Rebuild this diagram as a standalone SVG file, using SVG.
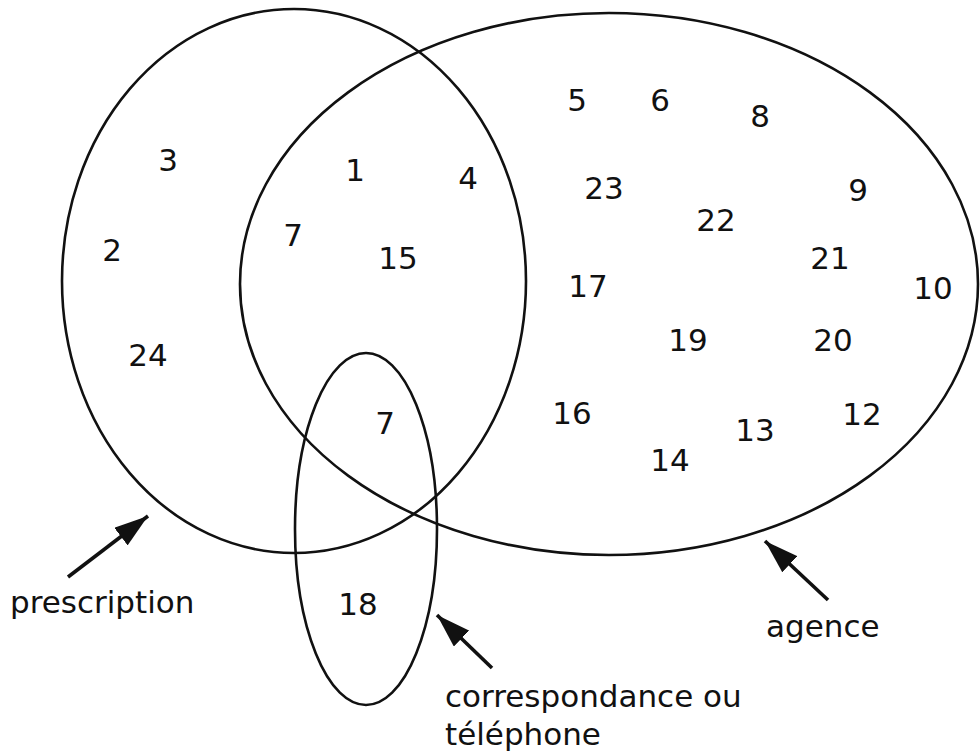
<svg xmlns="http://www.w3.org/2000/svg" width="980" height="754" viewBox="0 0 980 754">
<defs>
<style>
.set{fill:none;stroke:#111;stroke-width:2.6}
.arrow{stroke:#111;stroke-width:3.6;fill:none}
text{font-family:"DejaVu Sans","Liberation Sans",sans-serif;font-size:30px;fill:#111}
.lbl{font-size:31px}
.n{text-anchor:middle;font-size:31px}
</style>
<marker id="ah" markerUnits="userSpaceOnUse" markerWidth="36" markerHeight="22" refX="34" refY="11" orient="auto">
<path d="M0,0 L34,11 L0,22 Z" fill="#111"/>
</marker>
</defs>
<rect width="980" height="754" fill="#fff"/>
<g id="prescription">
<ellipse class="set" cx="294" cy="281" rx="232" ry="272"/>
<text class="lbl" x="10" y="613">prescription</text>
</g>
<g id="agence">
<ellipse class="set" cx="609" cy="284" rx="369" ry="271"/>
<text class="lbl" x="766" y="637">agence</text>
</g>
<g id="correspondance">
<ellipse class="set" cx="366" cy="529" rx="71" ry="176"/>
<text class="lbl" x="445" y="707">correspondance ou</text>
<text class="lbl" x="445" y="745">téléphone</text>
</g>
<g id="numbers">
<text class="n" x="168" y="171">3</text>
<text class="n" x="112" y="261">2</text>
<text class="n" x="148" y="366">24</text>
<text class="n" x="355" y="181">1</text>
<text class="n" x="468" y="189">4</text>
<text class="n" x="293" y="246">7</text>
<text class="n" x="398" y="269">15</text>
<text class="n" x="385" y="434">7</text>
<text class="n" x="358" y="615">18</text>
<text class="n" x="577" y="111">5</text>
<text class="n" x="660" y="111">6</text>
<text class="n" x="760" y="127">8</text>
<text class="n" x="604" y="199">23</text>
<text class="n" x="716" y="231">22</text>
<text class="n" x="858" y="201">9</text>
<text class="n" x="830" y="269">21</text>
<text class="n" x="933" y="299">10</text>
<text class="n" x="588" y="297">17</text>
<text class="n" x="688" y="351">19</text>
<text class="n" x="833" y="351">20</text>
<text class="n" x="572" y="424">16</text>
<text class="n" x="755" y="441">13</text>
<text class="n" x="862" y="425">12</text>
<text class="n" x="670" y="471">14</text>
</g>
<g id="connectors">
<line class="arrow" x1="68" y1="577" x2="148" y2="516" marker-end="url(#ah)"/>
<line class="arrow" x1="492" y1="668" x2="437" y2="615" marker-end="url(#ah)"/>
<line class="arrow" x1="828" y1="600" x2="765" y2="541" marker-end="url(#ah)"/>
</g>
</svg>
